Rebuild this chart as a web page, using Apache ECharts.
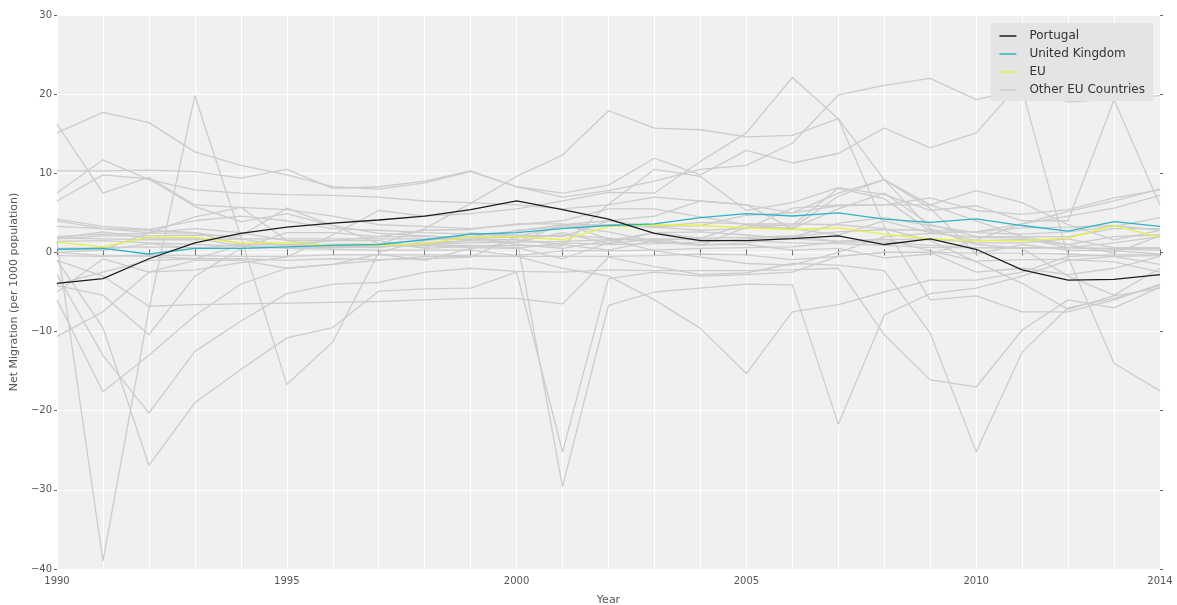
<!DOCTYPE html>
<html>
<head>
<meta charset="utf-8">
<script src="https://cdn.jsdelivr.net/npm/echarts@6/dist/echarts.min.js"></script>
<style>
  html, body { margin: 0; padding: 0; background: #ffffff; }
  #chart { width: 1177px; height: 605px; }
</style>
</head>
<body>
<div id="chart"></div>
<script>
// Net migration per 1000 population, 1990-2014
const years = [1990,1991,1992,1993,1994,1995,1996,1997,1998,1999,2000,2001,2002,2003,2004,2005,2006,2007,2008,2009,2010,2011,2012,2013,2014];
const xTickLabels = [1990, 1995, 2000, 2005, 2010, 2014];

const portugal      = [-3.9,-3.3,-0.8,1.2,2.4,3.2,3.7,4.1,4.6,5.4,6.5,5.4,4.2,2.4,1.5,1.5,1.75,2.1,1.0,1.7,0.4,-2.2,-3.5,-3.4,-2.8];
const unitedKingdom = [0.4,0.5,-0.2,0.5,0.5,0.7,0.9,1.0,1.6,2.3,2.5,3.0,3.4,3.6,4.4,4.9,4.6,5.0,4.2,3.8,4.25,3.4,2.7,3.9,3.3];
const eu            = [1.3,0.7,1.9,1.9,1.2,1.2,0.9,0.9,1.1,2.0,2.0,1.6,3.25,3.5,3.4,3.1,2.9,3.1,2.3,1.7,1.5,1.5,1.8,3.4,1.9];

// remaining member states
const other01 = [15.1,17.7,16.4,12.7,11.0,9.8,8.3,8.0,8.8,10.2,8.3,7.0,7.8,9.0,10.5,11.0,13.8,19.9,21.1,22.0,19.3,20.6,-0.6,-14.0,-17.5];
const other02 = [10.3,10.3,10.4,10.2,9.4,10.5,8.1,8.3,9.0,10.3,8.3,7.5,8.5,11.9,9.8,12.9,11.3,12.5,15.7,13.2,15.1,21.6,19.0,19.4,19.8];
const other03 = [-5.0,-0.8,-2.5,-2.2,-1.3,-0.6,2.2,5.3,4.6,4.9,5.5,6.5,7.6,7.5,11.5,15.1,22.1,16.9,3.3,-6.0,-5.5,-7.5,-7.5,-6.0,-4.0];
const other04 = [0.5,0.6,0.7,0.6,0.5,0.6,0.8,1.0,3.0,6.2,9.6,12.3,17.9,15.7,15.5,14.6,14.8,16.9,9.2,3.0,1.0,0.5,-3.0,-5.4,-2.0];
const other05 = [1.3,-39.0,-7.2,19.8,2.0,-16.7,-11.3,0.0,1.5,2.0,1.0,0.5,1.5,2.5,2.6,2.2,1.7,1.4,1.7,0.2,-1.1,-0.9,-0.9,-1.2,-2.5];
const other06 = [-1.0,-3.0,-6.8,-6.6,-6.5,-6.4,-6.3,-6.2,-6.0,-5.8,-5.8,-6.5,-0.6,-1.8,-2.8,-2.6,-1.4,-1.6,-2.3,-10.2,-25.2,-12.6,-7.0,-5.8,-4.2];
const other07 = [-2.8,-13.0,-20.3,-12.5,-8.7,-5.2,-4.0,-3.8,-2.5,-2.0,-2.4,-2.5,-2.2,-2.3,-2.3,-2.3,-2.2,-2.0,-10.4,-16.1,-17.0,-9.8,-6.0,-7.0,-4.4];
const other08 = [-1.0,-9.5,-26.9,-19.0,-14.8,-10.8,-9.5,-4.9,-4.6,-4.5,-2.5,-25.2,-3.3,-2.5,-3.0,-2.8,-2.5,-0.5,0.0,0.0,-2.5,-2.0,-2.8,-2.0,-0.5];
const other09 = [-4.0,-2.5,-1.0,-0.8,-0.8,-1.0,-0.8,-0.9,-0.8,-0.6,2.0,-29.6,-6.7,-5.0,-4.5,-4.0,-4.1,-21.7,-7.9,-5.2,-4.5,-3.0,-1.0,-0.5,-1.5];
const other10 = [-10.6,-7.5,-2.5,-1.0,-1.0,-2.0,-1.5,-1.0,-0.5,-0.5,-0.5,-2.0,-3.0,-6.0,-9.6,-15.3,-7.5,-6.6,-5.0,-3.5,-3.5,-2.5,-0.5,-0.3,-0.3];
const other11 = [6.5,9.8,9.3,5.8,3.9,4.9,3.4,1.1,0.6,2.5,2.0,3.3,2.6,1.4,1.0,1.0,0.3,0.5,-0.7,-0.2,1.6,3.6,4.6,5.6,7.2];
const other12 = [16.2,7.5,9.5,6.0,5.7,5.4,4.6,3.5,3.3,3.0,3.5,4.0,5.5,5.5,4.5,3.5,3.0,5.5,7.5,3.5,2.0,2.0,2.0,3.0,3.0];
const other13 = [7.5,11.7,9.2,7.9,7.5,7.3,7.2,7.0,6.5,6.3,6.0,5.5,6.0,7.0,6.5,6.0,5.0,7.5,9.2,6.0,4.0,2.0,1.0,2.0,2.2];
const other14 = [4.2,3.3,2.9,4.0,4.6,4.0,3.0,2.8,2.5,2.3,2.2,2.0,4.0,4.6,6.5,6.0,3.0,2.2,4.0,2.5,2.6,3.6,5.2,6.5,8.0];
const other15 = [4.0,3.0,2.5,4.5,5.7,1.5,0.7,0.6,1.2,1.5,2.8,3.2,3.5,3.2,2.8,3.0,5.6,6.0,6.0,6.9,5.3,4.8,5.4,6.9,7.9];
const other16 = [3.3,3.0,2.8,2.5,1.0,1.0,1.5,2.0,2.8,2.9,3.6,3.6,1.7,0.2,-0.6,-1.4,-1.6,0.0,2.0,2.4,1.9,1.8,0.6,1.2,2.0];
const other17 = [2.0,2.3,2.4,2.5,1.7,0.8,1.0,1.0,1.0,1.5,1.3,3.5,4.0,3.3,3.4,4.7,5.0,5.9,6.0,6.0,7.8,6.3,3.5,1.6,2.8];
const other18 = [1.4,1.5,1.2,1.0,0.8,0.6,0.6,0.8,1.0,1.2,1.3,1.4,1.6,1.7,1.6,1.5,1.2,1.1,0.9,0.6,0.6,0.5,0.6,0.5,0.5];
const other19 = [0.4,0.3,2.5,3.0,2.5,1.5,1.5,1.5,0.5,0.8,0.9,0.8,6.1,10.5,9.6,5.3,6.3,8.2,7.3,5.3,5.9,4.0,4.0,19.3,6.0];
const other20 = [-4.2,-5.4,-10.4,-3.0,0.5,2.5,2.5,2.0,2.0,2.0,2.7,3.5,3.5,3.2,3.8,3.6,3.6,3.5,3.0,1.5,-1.2,-3.9,-7.2,-5.5,-4.5];
const other21 = [-0.4,-0.5,-0.3,-0.4,-0.5,-0.5,-0.3,-0.3,-0.3,-0.4,-0.5,-0.5,-0.5,-0.4,-0.2,-0.3,-0.9,-0.5,0.0,0.0,-0.1,-0.1,-0.2,-0.5,-0.4];
const other22 = [1.8,1.7,1.6,1.6,1.7,1.7,1.7,1.7,1.7,1.6,1.6,1.0,0.3,1.5,1.8,1.9,2.1,1.4,1.6,1.7,1.2,1.2,1.7,0.6,0.6];
const other23 = [0.0,0.3,1.1,0.5,1.0,1.0,1.0,1.0,0.9,0.9,0.6,-0.8,1.2,2.5,1.8,3.5,3.4,8.1,6.8,2.7,1.5,1.6,1.0,-0.1,2.1];
const other24 = [-6.0,-17.6,-13.0,-8.0,-4.0,-2.0,-1.5,-0.2,-1.0,0.5,1.3,2.5,1.1,1.7,0.9,3.2,3.1,7.1,9.2,5.6,-0.2,1.0,0.3,0.2,-0.2];
const other25 = [1.8,2.6,1.8,1.8,0.8,0.6,0.7,0.8,0.9,0.6,0.5,1.2,1.0,1.1,1.3,1.7,2.0,2.6,2.9,2.8,2.6,3.1,3.2,3.4,2.8];
const other26 = [0.0,-0.4,-0.5,-0.8,0.9,0.5,0.4,0.3,0.3,0.3,-0.4,0.2,0.2,0.3,0.5,0.6,0.7,1.3,1.3,0.9,0.6,0.6,0.6,0.4,0.3];
const other27 = [1.7,2.1,2.1,2.2,2.1,5.6,3.4,2.4,2.1,1.8,1.9,2.2,1.8,1.3,0.9,1.2,1.9,3.7,4.4,3.4,2.5,2.3,2.6,3.3,4.4];

const otherCountries = [other01,other02,other03,other04,other05,other06,other07,other08,other09,
  other10,other11,other12,other13,other14,other15,other16,other17,other18,other19,other20,
  other21,other22,other23,other24,other25,other26,other27];

const OTHER_NAME = 'Other EU Countries';
const pairs = vals => years.map((y, i) => [y, vals[i]]);

function lineSeries(name, vals, color, z) {
  return {
    name: name, type: 'line', data: pairs(vals), showSymbol: false, symbol: 'none',
    lineStyle: { color: color, width: 1.3 }, itemStyle: { color: color },
    z: z, silent: true, animation: false
  };
}

const series = [];
otherCountries.forEach(v => series.push(lineSeries(OTHER_NAME, v, '#cccccc', 2)));
series.push(lineSeries('EU', eu, '#e4f04a', 4));
series.push(lineSeries('United Kingdom', unitedKingdom, '#2fb3c6', 5));
series.push(lineSeries('Portugal', portugal, '#1e1e1e', 6));

const tickColor = '#666';
const font = 'DejaVu Sans';

const chart = echarts.init(document.getElementById('chart'), null, { renderer: 'canvas' });
chart.setOption({
  animation: false,
  backgroundColor: '#ffffff',
  textStyle: { fontFamily: font },
  grid: {
    left: 57, right: 17, top: 15, bottom: 36,
    outerBoundsMode: 'none', containLabel: false,
    show: true, backgroundColor: '#f0f0f0', borderWidth: 0
  },
  legend: {
    data: ['Portugal', 'United Kingdom', 'EU', OTHER_NAME],
    orient: 'vertical', right: 24, top: 23,
    backgroundColor: '#e4e4e4', borderWidth: 0,
    padding: [7, 8, 5, 9],
    itemGap: 6, itemWidth: 17, itemHeight: 1.5, icon: 'rect',
    textStyle: { fontFamily: font, fontSize: 12, color: '#333', padding: [0, 0, 0, 8] }
  },
  xAxis: [{
    type: 'value', min: 1990, max: 2014, interval: 1,
    name: 'Year', nameLocation: 'middle', nameGap: 26,
    nameTextStyle: { fontFamily: font, fontSize: 11, color: '#555' },
    axisLine: { show: false },
    axisTick: { show: true, length: 3, lineStyle: { color: tickColor } },
    axisLabel: {
      fontFamily: font, fontSize: 10, color: '#555', margin: 7, showMaxLabel: true, showMinLabel: true,
      formatter: v => (xTickLabels.indexOf(v) >= 0 ? String(v) : '')
    },
    splitLine: { show: true, lineStyle: { color: '#ffffff', width: 1 } }
  }, {
    type: 'value', min: 1990, max: 2014, interval: 1, position: 'top',
    axisLine: { show: false },
    axisTick: { show: true, length: 3, lineStyle: { color: tickColor } },
    axisLabel: { show: false }, splitLine: { show: false }
  }],
  yAxis: [{
    type: 'value', min: -40, max: 30, interval: 10,
    name: 'Net Migration (per 1000 population)', nameLocation: 'middle', nameGap: 34,
    nameTextStyle: { fontFamily: font, fontSize: 11, color: '#555' },
    axisLine: { show: false },
    axisTick: { show: true, length: 3, lineStyle: { color: tickColor } },
    axisLabel: {
      fontFamily: font, fontSize: 10, color: '#555', margin: 5,
      formatter: v => (v < 0 ? '\u2212' + Math.abs(v) : String(v))
    },
    splitLine: { show: true, lineStyle: { color: '#ffffff', width: 1.2 } }
  }, {
    type: 'value', min: -40, max: 30, interval: 10, position: 'right',
    axisLine: { show: false },
    axisTick: { show: true, length: 3, lineStyle: { color: tickColor } },
    axisLabel: { show: false }, splitLine: { show: false }
  }],
  series: series
});
</script>
</body>
</html>
